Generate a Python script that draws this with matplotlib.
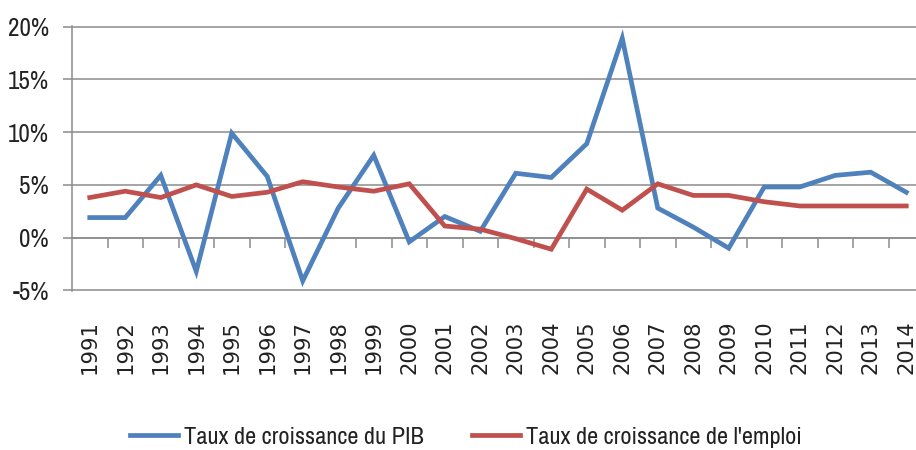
import numpy as np
import matplotlib
matplotlib.use("Agg")
import matplotlib.pyplot as plt
from matplotlib.ticker import FuncFormatter

years = [str(y) for y in range(1991, 2015)]
pib = [1.9, 1.9, 5.9, -3.2, 9.9, 5.8, -4.1, 2.8, 7.8, -0.4, 2.0, 0.6,
       6.1, 5.7, 8.9, 18.9, 2.8, 1.0, -1.0, 4.8, 4.8, 5.9, 6.2, 4.3]
emploi = [3.8, 4.4, 3.8, 5.0, 3.9, 4.3, 5.3, 4.8, 4.4, 5.1, 1.1, 0.8,
          -0.1, -1.1, 4.6, 2.6, 5.1, 4.0, 4.0, 3.4, 3.0, 3.0, 3.0, 3.0]
series_names = ["Taux de croissance du PIB", "Taux de croissance de l'emploi"]
yticks = [-5, 0, 5, 10, 15, 20]

blue = "#4F81BD"
red = "#C0504D"
gridc = "#8C8C8C"
narrow = ["Archivo Narrow", "DejaVu Sans"]

W, H = 916, 450
fig = plt.figure(figsize=(W / 100, H / 100), dpi=100)
ax = fig.add_axes([72 / W, 1 - 291 / H, (924 - 72) / W, (291 - 26) / H])

x = np.arange(len(years))
l1, = ax.plot(x, pib, color=blue, lw=3.4, solid_joinstyle="miter", zorder=3)
l2, = ax.plot(x, emploi, color=red, lw=3.4, solid_joinstyle="miter", zorder=3)

ax.set_xlim(-0.5, len(years) - 0.5)
ax.set_ylim(-5.06, 20.06)
ax.set_yticks(yticks)
ax.yaxis.set_major_formatter(FuncFormatter(lambda v, p: f"{v:.0f}%"))
ax.grid(axis="y", color=gridc, lw=1.1)
ax.set_axisbelow(True)
for s in ["top", "right"]:
    ax.spines[s].set_visible(False)
ax.spines["left"].set_color(gridc)
ax.spines["left"].set_linewidth(1.1)
ax.spines["bottom"].set_position(("data", 0))
ax.spines["bottom"].set_color(gridc)
ax.spines["bottom"].set_linewidth(1.1)
ax.tick_params(axis="y", length=6.5, color=gridc, width=1.1, pad=10,
               labelsize=18, labelcolor="#222222")
for t in ax.get_yticklabels():
    t.set_family(narrow)
ax.set_xticks([])
ax.set_xticks(np.arange(0.5, len(years) - 0.5, 1), minor=True)
ax.tick_params(axis="x", which="minor", length=7, color=gridc, width=1.1,
               direction="out")

sec = ax.secondary_xaxis("bottom")
sec.set_xticks(x, labels=years, rotation=90)
sec.tick_params(length=0, pad=21, labelsize=15.2, labelcolor="#222222")
sec.spines["bottom"].set_visible(False)

fig.legend([l1, l2], series_names, loc="center", bbox_to_anchor=(466 / W, 1 - 437 / H),
           ncol=2, frameon=False, handlelength=1.97, handletextpad=0.25,
           columnspacing=2.0, prop={"family": narrow, "size": 17.5},
           labelcolor="#222222")

fig.savefig("out.png", dpi=100)
